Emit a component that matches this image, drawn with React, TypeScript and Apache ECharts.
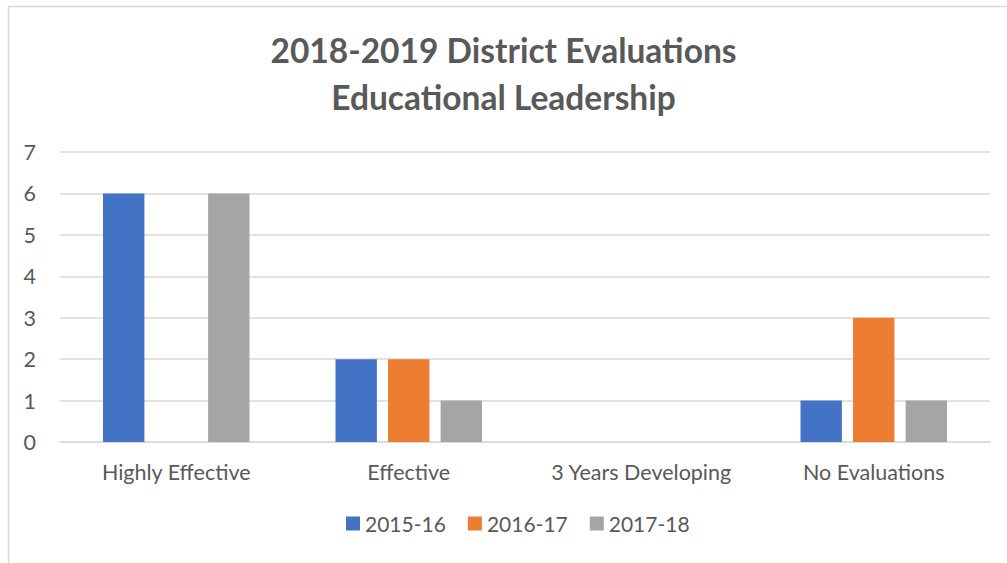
import React, { useEffect, useRef } from "react";
import * as echarts from "echarts";

const categories = ["Highly Effective", "Effective", "3 Years Developing", "No Evaluations"];
const seriesNames = ["2015-16", "2016-17", "2017-18"];
const values2015 = [6, 2, 0, 1];
const values2016 = [0, 2, 0, 3];
const values2017 = [6, 1, 0, 1];
const colors = ["#4472C4", "#ED7D31", "#A5A5A5"];
const titleLines = ["2018-2019 District Evaluations", "Educational Leadership"];

export default function App() {
  const ref = useRef<HTMLDivElement>(null);
  useEffect(() => {
    if (!ref.current) return;
    const chart = echarts.init(ref.current, undefined, { renderer: "svg" });
    const font = "Lato, 'Open Sans', sans-serif";
    const data = [values2015, values2016, values2017];
    chart.setOption({
      animation: false,
      backgroundColor: "#ffffff",
      title: {
        text: titleLines.join("\n"),
        left: "center",
        top: 21,
        textStyle: { fontFamily: font, fontWeight: "bold", fontSize: 33.5, color: "#595959", lineHeight: 47 },
      },
      graphic: [
        {
          type: "rect",
          shape: { x: 8.5, y: 6.5, width: 1100, height: 700 },
          style: { fill: "none", stroke: "#D9D9D9", lineWidth: 1.5 },
          silent: true,
        },
      ],
      legend: {
        bottom: 24,
        left: 341,
        itemWidth: 14,
        itemHeight: 14,
        itemGap: 22,
        icon: "rect",
        textStyle: { fontFamily: font, fontSize: 21, color: "#595959" },
        data: seriesNames,
      },
      grid: { left: 60, right: 17, top: 152, bottom: 121, containLabel: false },
      xAxis: {
        type: "category",
        data: categories,
        axisLine: { lineStyle: { color: "#D9D9D9", width: 1.5 } },
        axisTick: { show: false },
        axisLabel: { fontFamily: font, fontSize: 21.5, color: "#595959", margin: 19, interval: 0 },
      },
      yAxis: {
        type: "value",
        min: 0,
        max: 7,
        interval: 1,
        axisLine: { show: false },
        axisTick: { show: false },
        splitLine: { lineStyle: { color: "#D9D9D9", width: 1.5 } },
        axisLabel: { fontFamily: font, fontSize: 21.5, color: "#595959", margin: 24 },
      },
      series: seriesNames.map((name, i) => ({
        name,
        type: "bar",
        data: data[i],
        itemStyle: { color: colors[i] },
        barGap: "27%",
        barCategoryGap: "37%",
      })),
    });
    return () => chart.dispose();
  }, []);
  return <div ref={ref} style={{ position: "fixed", left: 0, top: 0, width: 1007, height: 563 }} />;
}
